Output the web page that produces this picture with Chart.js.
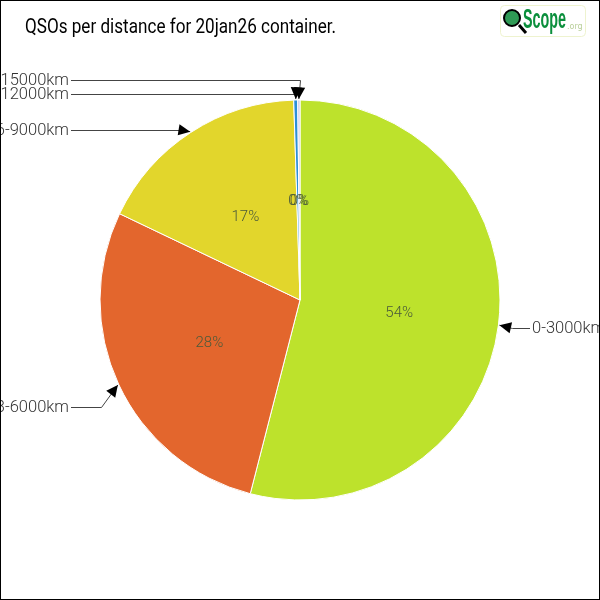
<!DOCTYPE html>
<html>
<head>
<meta charset="utf-8">
<title>QSOs per distance</title>
<script src="https://cdn.jsdelivr.net/npm/chart.js@4/dist/chart.umd.min.js"></script>
<style>
  html, body { margin: 0; padding: 0; background: #fff; }
  canvas { display: block; }
</style>
</head>
<body>
<canvas id="chart" width="600" height="600"></canvas>
<script>
const categories = ["0-3000km", "3-6000km", "6-9000km", "9-12000km", "12-15000km"];
const values = [54.0, 28.1, 17.4, 0.32, 0.18];
const percentLabels = ["54%", "28%", "17%", "0%", "0%"];
const colors = ["#bde22c", "#e3662d", "#e2d62c", "#2d8fd6", "#c9c6e6"];
const chartTitle = "QSOs per distance for 20jan26 container.";

// label row of each leader line, and the point where the line turns to the slice
const leaders = [
    { side: "right", y: 328, elbowX: 512 },
    { side: "left", y: 407, elbowX: 101 },
    { side: "left", y: 130, elbowX: 180 },
    { side: "left", y: 94, elbowX: 296 },
    { side: "left", y: 80, elbowX: 300 }
];

const textFont = "Roboto, sans-serif";

function arrowHead(ctx, fromX, fromY, toX, toY) {
    const a = Math.atan2(toY - fromY, toX - fromX);
    ctx.beginPath();
    ctx.moveTo(toX, toY);
    ctx.lineTo(toX - 13 * Math.cos(a - 0.45), toY - 13 * Math.sin(a - 0.45));
    ctx.lineTo(toX - 13 * Math.cos(a + 0.45), toY - 13 * Math.sin(a + 0.45));
    ctx.closePath();
    ctx.fillStyle = "#000";
    ctx.fill();
}

const piecePlugin = {
    id: "pieceLabels",
    afterDraw(chart) {
        const ctx = chart.ctx;
        const arcs = chart.getDatasetMeta(0).data;
        ctx.save();

        // percentages sit half way along each slice
        ctx.font = "300 15px " + textFont;
        ctx.textAlign = "center";
        ctx.textBaseline = "middle";
        arcs.forEach((arc, i) => {
            const mid = (arc.startAngle + arc.endAngle) / 2;
            ctx.fillStyle = "#4a5a3a";
            ctx.fillText(percentLabels[i], arc.x + Math.cos(mid) * arc.outerRadius * 0.5, arc.y + 1 + Math.sin(mid) * arc.outerRadius * 0.5);
        });

        // leader lines with arrows pointing at the rim
        arcs.forEach((arc, i) => {
            const l = leaders[i];
            const mid = (arc.startAngle + arc.endAngle) / 2;
            const tipX = arc.x + Math.cos(mid) * (arc.outerRadius + 1);
            const tipY = arc.y + Math.sin(mid) * (arc.outerRadius + 1);
            const startX = l.side === "right" ? 530 : 71;
            ctx.strokeStyle = "#444";
            ctx.lineWidth = 1;
            ctx.beginPath();
            ctx.moveTo(startX, l.y + 0.5);
            ctx.lineTo(l.elbowX + 0.5, l.y + 0.5);
            ctx.lineTo(tipX, tipY);
            ctx.stroke();
            arrowHead(ctx, l.elbowX, l.y, tipX, tipY);

            ctx.font = "300 16.5px " + textFont;
            ctx.fillStyle = "#333";
            ctx.textBaseline = "middle";
            ctx.textAlign = l.side === "right" ? "left" : "right";
            ctx.fillText(categories[i], l.side === "right" ? 532 : 69, l.y + 1);
        });

        // title
        ctx.font = "400 20px " + textFont;
        ctx.fillStyle = "#000";
        ctx.textAlign = "left";
        ctx.textBaseline = "middle";
        ctx.fillText(chartTitle, 25, 28, 311);

        // logo badge
        ctx.strokeStyle = "#eef3cf";
        ctx.lineWidth = 1;
        ctx.beginPath();
        ctx.roundRect(500.5, 5.5, 85, 31, 4);
        ctx.stroke();
        ctx.strokeStyle = "#000";
        ctx.lineWidth = 3;
        ctx.beginPath();
        ctx.moveTo(519, 25);
        ctx.lineTo(526, 33);
        ctx.stroke();
        ctx.fillStyle = "#2f9a55";
        ctx.lineWidth = 2;
        ctx.beginPath();
        ctx.arc(512, 18, 8, 0, Math.PI * 2);
        ctx.fill();
        ctx.stroke();
        ctx.font = "bold 28px 'Liberation Sans', sans-serif";
        ctx.fillStyle = "#0b8f3c";
        ctx.fillText("Scope", 523, 20, 43);
        ctx.font = "8px 'DejaVu Sans', sans-serif";
        ctx.fillStyle = "#b9cf9a";
        ctx.fillText(".org", 567, 27);

        // outer frame
        ctx.strokeStyle = "#000";
        ctx.lineWidth = 1;
        ctx.strokeRect(0.5, 0.5, 599, 599);
        ctx.restore();
    }
};

new Chart(document.getElementById("chart"), {
    type: "pie",
    data: {
        labels: categories,
        datasets: [{
            data: values,
            backgroundColor: colors,
            borderColor: "#fff",
            borderWidth: 1
        }]
    },
    options: {
        responsive: false,
        animation: false,
        radius: 200,
        layout: { padding: 0 },
        plugins: { legend: { display: false }, tooltip: { enabled: false } }
    },
    plugins: [piecePlugin]
});
</script>
</body>
</html>
